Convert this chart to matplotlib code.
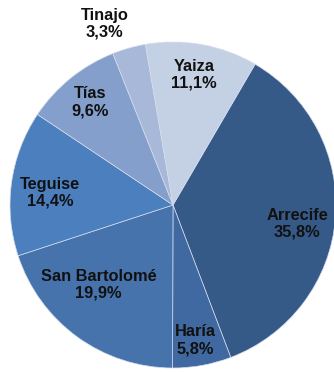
import numpy as np
import matplotlib
matplotlib.use("Agg")
import matplotlib.pyplot as plt

municipios = ["Arrecife", "Haría", "San Bartolomé", "Teguise", "Tías", "Tinajo", "Yaiza"]
porcentajes = [35.8, 5.8, 19.9, 14.4, 9.6, 3.3, 11.1]
colores = ["#365a88", "#3f69a0", "#4673ab", "#4c7fbd", "#849fcb", "#a8b8d8", "#c4d0e3"]

# label placement: distance from centre (fraction of radius) and angular nudge (deg)
dist_etiqueta = [0.77, 0.84, 0.67, 0.76, 0.81, 1.19, 0.81]
giro_etiqueta = [4, 1, 7, -2, 0, -5, -1]

plt.rcParams["font.family"] = ["Liberation Sans", "DejaVu Sans"]

fig = plt.figure(figsize=(3.34, 3.72), dpi=100)
R = 163
cx, cy = 173, 372 - 205
ax = fig.add_axes([(cx - R) / 334, (cy - R) / 372, 2 * R / 334, 2 * R / 372])

start = 90 - 30.24
wedges, _ = ax.pie(porcentajes, colors=colores, startangle=start, counterclock=False,
                   radius=1, wedgeprops=dict(edgecolor="#d4dcec", linewidth=0.5))
ax.set_xlim(-1, 1)
ax.set_ylim(-1, 1)
ax.set_aspect("equal")
ax.axis("off")

for w, nombre, p, d, g in zip(wedges, municipios, porcentajes, dist_etiqueta, giro_etiqueta):
    # wedge angles go clockwise, so the nudge is subtracted
    mid = np.deg2rad((w.theta1 + w.theta2) / 2 - g)
    txt = f"{nombre}\n{p:.1f}%".replace(".", ",")
    ax.text(d * np.cos(mid), d * np.sin(mid), txt, ha="center", va="center",
            fontsize=11.8, fontweight="bold", color="#111111", linespacing=1.15,
            clip_on=False)

fig.savefig("out.png", dpi=100)
